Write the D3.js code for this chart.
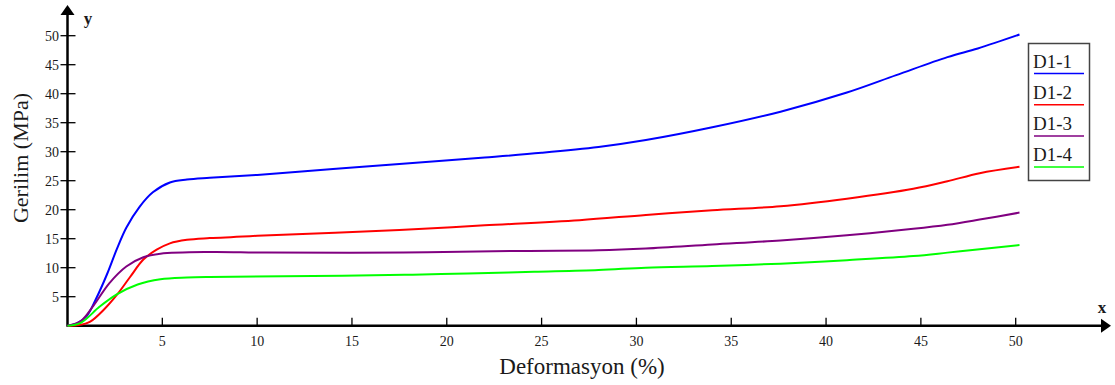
<!DOCTYPE html>
<html>
<head>
<meta charset="utf-8">
<script src="https://cdn.jsdelivr.net/npm/d3@7"></script>
<style>
  body { margin: 0; background: #fff; }
  #chart { width: 1115px; height: 385px; }
  text { font-family: "Liberation Serif", "Times New Roman", serif; fill: #1a1a1a; }
</style>
</head>
<body>
<div id="chart"></div>
<script>
// series (strain %, stress MPa)
var seriesNames = ["D1-1", "D1-2", "D1-3", "D1-4"];
var seriesColors = ["#0000ff", "#ff0000", "#800080", "#00ff00"];

var d1_1 = [[0, 0], [0.5, 0.4], [1.0, 1.6], [1.5, 4.6], [2.1, 9.0], [2.6, 13.2], [3.1, 16.9], [3.8, 20.5], [4.5, 23.0],
    [5.4, 24.7], [6.3, 25.2], [7.5, 25.5], [10, 26], [14, 27], [17.5, 27.9], [22, 29], [25, 29.8], [28, 30.8],
    [30.5, 32.0], [34, 34.2], [37.6, 36.9], [41.1, 40.2], [43.7, 43.2], [46.4, 46.3], [48, 47.8], [50.2, 50.2]];
var d1_2 = [[0, 0], [0.6, 0.1], [1.2, 0.7], [1.9, 2.7], [2.6, 5.3], [3.3, 8.4], [4.0, 11.4], [4.7, 13.1],
    [5.4, 14.2], [6.3, 14.8], [7.5, 15.1], [10, 15.5], [17.5, 16.5], [22, 17.3], [27, 18.2], [30.5, 19.1],
    [34, 19.9], [37.6, 20.6], [41.1, 21.9], [44.6, 23.6], [46.4, 24.9], [48.1, 26.3], [50.2, 27.4]];
var d1_3 = [[0, 0], [0.7, 0.8], [1.4, 3.6], [2.2, 7.3], [3.1, 10.2], [4.0, 11.8], [4.9, 12.4], [7.5, 12.7],
    [10.5, 12.6], [17.7, 12.6], [24, 12.9], [28, 13.0], [30.5, 13.3], [34, 14.0], [37.6, 14.7], [41.1, 15.6],
    [44.6, 16.7], [46.4, 17.4], [48.1, 18.3], [50.2, 19.5]];
var d1_4 = [[0, 0], [0.7, 0.5], [1.7, 3.3], [2.6, 5.4], [3.7, 7.1], [4.9, 8.0], [6.3, 8.3], [7.5, 8.4],
    [14.5, 8.6], [18.2, 8.8], [21.1, 9.0], [24.6, 9.3], [28, 9.6], [30.5, 10.0], [34, 10.3], [37.6, 10.7],
    [41.1, 11.3], [44.6, 12.0], [46.4, 12.6], [48.1, 13.2], [50.2, 13.9]];
var seriesData = [d1_1, d1_2, d1_3, d1_4];

var xTicks = [5, 10, 15, 20, 25, 30, 35, 40, 45, 50];
var yTicks = [5, 10, 15, 20, 25, 30, 35, 40, 45, 50];

var width = 1115, height = 385;
var x0 = 67.5, y0 = 325.7;

var svg = d3.select("#chart").append("svg")
    .attr("width", width)
    .attr("height", height);

var xScale = d3.scaleLinear().domain([0, 50]).range([x0, 1015.7]);
var yScale = d3.scaleLinear().domain([0, 50]).range([y0, y0 - 50 * 5.8]);

// axis lines with arrows
svg.append("line").attr("x1", x0).attr("x2", 1104).attr("y1", y0).attr("y2", y0)
    .attr("stroke", "#000").attr("stroke-width", 2.5);
svg.append("path").attr("d", "M1111," + y0 + " L1101," + (y0 - 7) + " L1101," + (y0 + 7) + " Z").attr("fill", "#000");
svg.append("line").attr("x1", x0).attr("x2", x0).attr("y1", y0 + 1).attr("y2", 12)
    .attr("stroke", "#000").attr("stroke-width", 2.5);
svg.append("path").attr("d", "M" + x0 + ",5 L" + (x0 - 7) + ",15 L" + (x0 + 7) + ",15 Z").attr("fill", "#000");

svg.append("text").attr("x", 88).attr("y", 24).attr("text-anchor", "middle")
    .attr("font-size", 17).attr("font-weight", "bold").text("y");
svg.append("text").attr("x", 1102).attr("y", 313).attr("text-anchor", "middle")
    .attr("font-size", 17).attr("font-weight", "bold").text("x");

// ticks
xTicks.forEach(function(t) {
    svg.append("line").attr("x1", xScale(t)).attr("x2", xScale(t)).attr("y1", y0 - 8).attr("y2", y0)
        .attr("stroke", "#000").attr("stroke-width", 1.3);
    svg.append("text").attr("x", xScale(t)).attr("y", 346).attr("text-anchor", "middle")
        .attr("font-size", 14).text(t);
});
yTicks.forEach(function(t) {
    svg.append("line").attr("x1", x0 - 7).attr("x2", x0 + 8).attr("y1", yScale(t)).attr("y2", yScale(t))
        .attr("stroke", "#000").attr("stroke-width", 1.3);
    svg.append("text").attr("x", 59).attr("y", yScale(t) + 5).attr("text-anchor", "end")
        .attr("font-size", 14).text(t);
});

// axis titles
svg.append("text").attr("x", 582).attr("y", 374).attr("text-anchor", "middle")
    .attr("font-size", 23).text("Deformasyon (%)");
svg.append("text").attr("transform", "translate(28,158) rotate(-90)").attr("text-anchor", "middle")
    .attr("font-size", 22).text("Gerilim (MPa)");

// curves
var line = d3.line()
    .x(function(d) { return xScale(d[0]); })
    .y(function(d) { return yScale(d[1]); })
    .curve(d3.curveCatmullRom.alpha(0.5));

seriesData.forEach(function(s, i) {
    svg.append("path")
        .datum(s)
        .attr("fill", "none")
        .attr("stroke", seriesColors[i])
        .attr("stroke-width", 2)
        .attr("d", line);
});

// legend
var legend = svg.append("g");
legend.append("rect").attr("x", 1028.5).attr("y", 43.5).attr("width", 61).attr("height", 137)
    .attr("fill", "#fff").attr("stroke", "#444").attr("stroke-width", 1.5);
seriesNames.forEach(function(name, i) {
    var by = 67.5 + i * 31.2;
    legend.append("text").attr("x", 1033).attr("y", by).attr("font-size", 19).text(name);
    legend.append("line").attr("x1", 1034).attr("x2", 1084).attr("y1", by + 6).attr("y2", by + 6)
        .attr("stroke", seriesColors[i]).attr("stroke-width", 1.5);
});
</script>
</body>
</html>
